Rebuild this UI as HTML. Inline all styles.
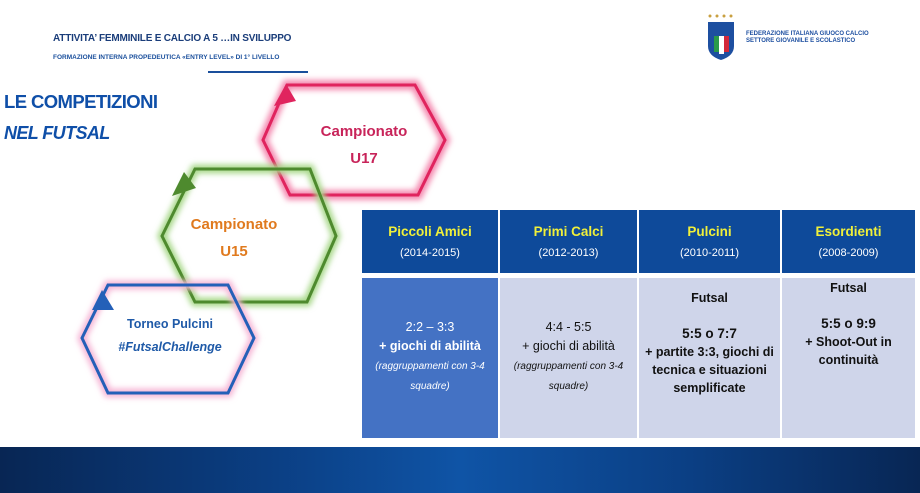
<!DOCTYPE html>
<html><head><meta charset="utf-8"><style>
body{margin:0;width:920px;height:493px;overflow:hidden;background:#fff;font-family:"Liberation Sans",sans-serif;position:relative}
.a{position:absolute}
.t{position:absolute;text-align:center;font-weight:bold;font-size:12.5px;line-height:17px}
</style></head><body>
<div class="a" style="left:53px;top:33px;font-size:10px;font-weight:bold;color:#1a3d7a;letter-spacing:-0.2px">ATTIVITA’ FEMMINILE E CALCIO A 5 …IN SVILUPPO</div>
<div class="a" style="left:53px;top:54px;font-size:6.5px;font-weight:bold;color:#1a4f9c">FORMAZIONE INTERNA PROPEDEUTICA «ENTRY LEVEL» DI 1° LIVELLO</div>
<div class="a" style="left:208px;top:71px;width:100px;height:2px;background:#1a4f9c"></div>
<div class="a" style="left:4px;top:91px;font-size:18.5px;font-weight:bold;color:#0f4fa8;letter-spacing:-0.6px">LE COMPETIZIONI</div>
<div class="a" style="left:4px;top:123px;font-size:18px;font-weight:bold;font-style:italic;color:#0f4fa8;letter-spacing:-0.6px">NEL FUTSAL</div>
<!-- logo -->
<svg class="a" style="left:700px;top:12px" width="45" height="50"><g fill="#c9a040"><circle cx="10" cy="4" r="1.5"/><circle cx="17" cy="4" r="1.5"/><circle cx="24" cy="4" r="1.5"/><circle cx="31" cy="4" r="1.5"/></g>
<path d="M8 10 H34 V34 Q34 44 21 48 Q8 44 8 34Z" fill="#1d4fa0"/><rect x="14" y="24" width="5" height="16" fill="#2a9a4a"/><rect x="19" y="24" width="5" height="18" fill="#fff"/><rect x="24" y="24" width="5" height="16" fill="#d2283a"/></svg>
<div class="a" style="left:746px;top:31px;font-size:6px;font-weight:bold;color:#1d4fa0;line-height:7px">FEDERAZIONE ITALIANA GIUOCO CALCIO<br>SETTORE GIOVANILE E SCOLASTICO</div>
<svg class="a" style="left:0;top:0" width="920" height="493">
<defs><filter id="g" x="-20%" y="-20%" width="140%" height="140%"><feGaussianBlur stdDeviation="3"/></filter></defs>
<polygon points="263,140 287,85 415,85 445,140 418,195 290,195" fill="none" stroke="#f48ab0" stroke-width="10" filter="url(#g)"/>
<polygon points="263,140 287,85 415,85 445,140 418,195 290,195" fill="none" stroke="#e0245e" stroke-width="3"/>
<polygon points="274,106 286,84 296,101" fill="#e0245e"/>
<polygon points="162,236 195,169 310,169 336,236 307,302 195,302" fill="none" stroke="#a8d88a" stroke-width="9" filter="url(#g)"/>
<polygon points="162,236 195,169 310,169 336,236 307,302 195,302" fill="none" stroke="#4e8a2e" stroke-width="3"/>
<polygon points="172,196 184,172 196,188" fill="#4e8a2e"/>
<polygon points="82,338 108,285 228,285 254,338 228,393 108,393" fill="none" stroke="#f6b6d6" stroke-width="9" filter="url(#g)"/>
<polygon points="82,338 108,285 228,285 254,338 228,393 108,393" fill="none" stroke="#2460b8" stroke-width="3"/>
<polygon points="92,310 102,290 114,310" fill="#2460b8"/>
</svg>
<div class="t" style="left:300px;top:118px;width:128px;color:#c8245a;font-size:15px;line-height:27px">Campionato<br>U17</div>
<div class="t" style="left:170px;top:211px;width:128px;color:#e07a1e;font-size:15px;line-height:27px">Campionato<br>U15</div>
<div class="t" style="left:90px;top:313px;width:160px;color:#1f5aa8;font-size:12.5px;line-height:23px">Torneo Pulcini<br><i>#FutsalChallenge</i></div>
<!-- table -->
<div class="a" style="left:362px;top:210px;width:553px;height:63px;background:#0e4a9a"></div>
<div class="a" style="left:498px;top:210px;width:2px;height:63px;background:#fff"></div>
<div class="a" style="left:637px;top:210px;width:2px;height:63px;background:#fff"></div>
<div class="a" style="left:780px;top:210px;width:2px;height:63px;background:#fff"></div>
<div class="a" style="left:362px;top:278px;width:136px;height:160px;background:#4472c4"></div>
<div class="a" style="left:500px;top:278px;width:137px;height:160px;background:#cfd5ea"></div>
<div class="a" style="left:639px;top:278px;width:141px;height:160px;background:#cfd5ea"></div>
<div class="a" style="left:782px;top:278px;width:133px;height:160px;background:#cfd5ea"></div>
<div class="t" style="left:362px;top:223px;width:136px;color:#f0f03a;font-size:13.5px">Piccoli Amici<br><span style="color:#fff;font-size:11px;font-weight:normal;line-height:26px">(2014-2015)</span></div>
<div class="t" style="left:500px;top:223px;width:137px;color:#f0f03a;font-size:13.5px">Primi Calci<br><span style="color:#fff;font-size:11px;font-weight:normal;line-height:26px">(2012-2013)</span></div>
<div class="t" style="left:639px;top:223px;width:141px;color:#f0f03a;font-size:13.5px">Pulcini<br><span style="color:#fff;font-size:11px;font-weight:normal;line-height:26px">(2010-2011)</span></div>
<div class="t" style="left:782px;top:223px;width:133px;color:#f0f03a;font-size:13.5px">Esordienti<br><span style="color:#fff;font-size:11px;font-weight:normal;line-height:26px">(2008-2009)</span></div>
<div class="t" style="left:362px;top:318px;width:136px;color:#fff;font-weight:normal;line-height:19px">2:2 – 3:3<br><b>+ giochi di abilità</b><br><i style="font-size:10px">(raggruppamenti con 3-4<br>squadre)</i></div>
<div class="t" style="left:500px;top:318px;width:137px;color:#111;font-weight:normal;line-height:19px">4:4 - 5:5<br>+ giochi di abilità<br><i style="font-size:10px">(raggruppamenti con 3-4<br>squadre)</i></div>
<div class="t" style="left:639px;top:289px;width:141px;color:#111;line-height:18px">Futsal<br><br><span style="font-size:13.5px">5:5 o 7:7</span><br>+ partite 3:3, giochi di<br>tecnica e situazioni<br>semplificate</div>
<div class="t" style="left:782px;top:279px;width:133px;color:#111;line-height:18px">Futsal<br><br><span style="font-size:13.5px">5:5 o 9:9</span><br>+ Shoot-Out in<br>continuità</div>
<div class="a" style="left:0;top:447px;width:920px;height:46px;background:linear-gradient(90deg,#082654,#0b3f84 30%,#0f54a6 50%,#0b3f84 75%,#082654)"></div>
</body></html>
